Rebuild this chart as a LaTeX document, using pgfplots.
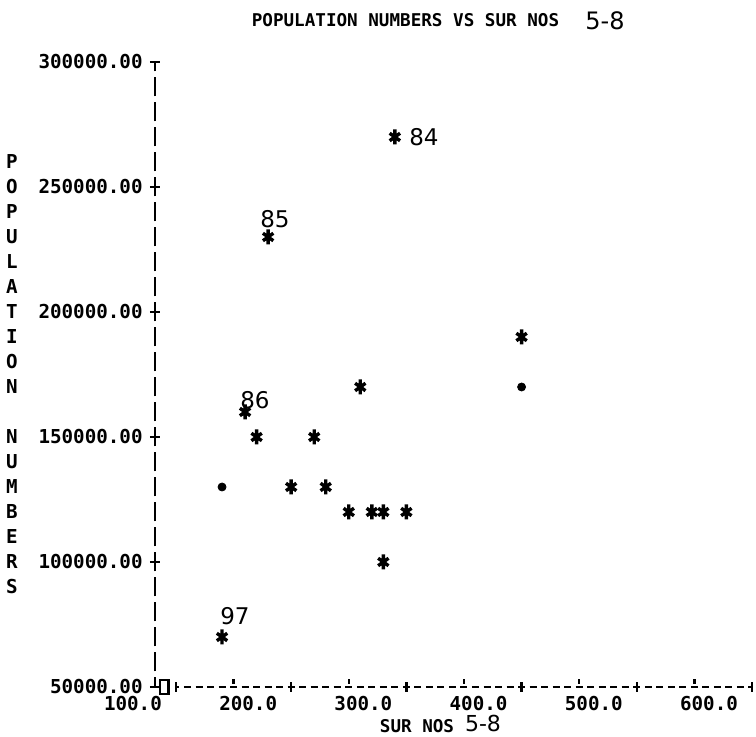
\documentclass[border=0pt]{standalone}
\usepackage{fontspec}
\setmonofont{DejaVu Sans Mono}
\newfontfamily\hand{DejaVu Sans}
\usepackage{pgfplots}
\pgfplotsset{compat=1.18}

% printer style fonts
\newcommand{\pr}{\fontsize{9.6}{12.5}\selectfont\ttfamily\bfseries}
\newcommand{\prt}{\fontsize{8.8}{10}\selectfont\ttfamily\bfseries}

\begin{document}
\begin{tikzpicture}
\useasboundingbox (-77.5pt,-25pt) rectangle (300.5pt,343.5pt);
\begin{axis}[
    at={(0,0)}, anchor=south west,
    scale only axis,
    width=298.5pt, height=312.5pt,
    xmin=81.8, xmax=600,
    ymin=50000, ymax=300000,
    scaled y ticks=false, scaled x ticks=false,
    axis x line*=bottom, axis y line*=left,
    x axis line style={draw=none},
    y axis line style={-, black, line width=1.3pt, dash pattern=on 9.5pt off 3pt, dash phase=4.75pt},
    xtick={100,200,300,400,500,600},
    xticklabels={100.0,200.0,300.0,400.0,500.0,600.0},
    minor xtick={150,250,350,450,550},
    ytick={50000,100000,150000,200000,250000,300000},
    yticklabels={50000.00,100000.00,150000.00,200000.00,250000.00,300000.00},
    tick align=center,
    major tick length=5pt,
    minor tick length=2.5pt,
    every tick/.style={black, line width=1.2pt},
    minor x tick style={yshift=2.75pt},
    xticklabel style={font=\pr, anchor=north, xshift=-21.5pt, inner sep=0pt, yshift=-2pt},
    yticklabel style={font=\pr, anchor=east, inner sep=0pt, xshift=-3.5pt},
    clip=false,
]
% x axis drawn as printer dashes
\addplot[black, line width=1pt, dash pattern=on 3.5pt off 2.26pt, dash phase=1.75pt, forget plot]
    coordinates {(100,50000) (600,50000)};
% asterisks
\addplot[only marks, mark=asterisk, mark size=3pt,
    mark options={line width=1.7pt, yscale=1.25, black}]
    coordinates {
    (290,270000) (180,230000) (400,190000) (260,170000) (160,160000)
    (170,150000) (220,150000) (200,130000) (230,130000)
    (250,120000) (270,120000) (280,120000) (300,120000)
    (280,100000) (140,70000)
    };
% dots
\addplot[only marks, mark=*, mark size=2pt, black]
    coordinates {(140,130000) (400,170000)};
% box at the corner
\addplot[only marks, mark=square, mark size=3.5pt,
    mark options={line width=1.2pt, xscale=0.6, black}]
    coordinates {(90,50000)};
\end{axis}
% title and axis labels
\node[font=\prt] at (125.25pt,333.5pt) {POPULATION NUMBERS VS SUR NOS};
\node[font=\hand\fontsize{12}{12}\selectfont] at (225pt,333pt) {5-8};
\node[font=\prt] at (131pt,-19.5pt) {SUR NOS};
\node[font=\hand\fontsize{11}{11}\selectfont] at (164pt,-18.5pt) {5-8};
\node[font=\pr, align=center] at (-71.5pt,156.25pt)
    {P\\O\\P\\U\\L\\A\\T\\I\\O\\N\\[12.5pt]N\\U\\M\\B\\E\\R\\S};
% handwritten year notes
\node[font=\hand\fontsize{11.5}{12}\selectfont] at (134.5pt,275pt) {84};
\node[font=\hand\fontsize{11.5}{12}\selectfont] at (60pt,234pt) {85};
\node[font=\hand\fontsize{11.5}{12}\selectfont] at (50pt,143.5pt) {86};
\node[font=\hand\fontsize{11.5}{12}\selectfont] at (40pt,35.5pt) {97};
\end{tikzpicture}
\end{document}
